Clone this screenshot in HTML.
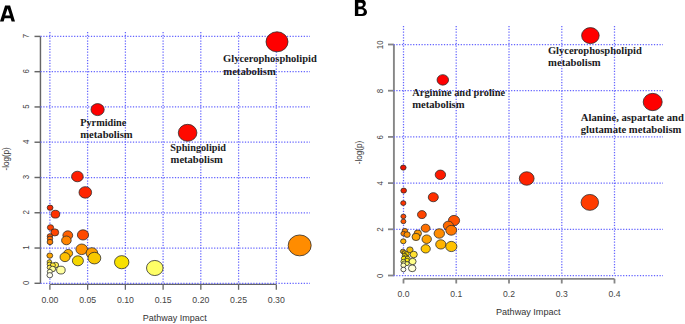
<!DOCTYPE html>
<html><head><meta charset="utf-8"><style>
html,body{margin:0;padding:0;background:#fff;}
body{width:685px;height:324px;overflow:hidden;font-family:"Liberation Sans",sans-serif;}
svg{display:block;}
</style></head><body>
<svg width="685" height="324" viewBox="0 0 685 324">
<rect width="685" height="324" fill="#fff"/>
<path d="M40.45 36.41 V283.60" stroke="#666" stroke-width="1.45" fill="none"/>
<path d="M34.5 283.30 H40.45" stroke="#666" stroke-width="1.45"/>
<text x="0" y="0" transform="translate(29.20 282.90) rotate(-90) scale(0.84 1)" font-family="Liberation Sans" font-size="9.4" text-anchor="middle" fill="#444">0</text>
<path d="M34.5 248.03 H40.45" stroke="#666" stroke-width="1.45"/>
<text x="0" y="0" transform="translate(29.20 247.63) rotate(-90) scale(0.84 1)" font-family="Liberation Sans" font-size="9.4" text-anchor="middle" fill="#444">1</text>
<path d="M34.5 212.76 H40.45" stroke="#666" stroke-width="1.45"/>
<text x="0" y="0" transform="translate(29.20 212.36) rotate(-90) scale(0.84 1)" font-family="Liberation Sans" font-size="9.4" text-anchor="middle" fill="#444">2</text>
<path d="M34.5 177.49 H40.45" stroke="#666" stroke-width="1.45"/>
<text x="0" y="0" transform="translate(29.20 177.09) rotate(-90) scale(0.84 1)" font-family="Liberation Sans" font-size="9.4" text-anchor="middle" fill="#444">3</text>
<path d="M34.5 142.22 H40.45" stroke="#666" stroke-width="1.45"/>
<text x="0" y="0" transform="translate(29.20 141.82) rotate(-90) scale(0.84 1)" font-family="Liberation Sans" font-size="9.4" text-anchor="middle" fill="#444">4</text>
<path d="M34.5 106.95 H40.45" stroke="#666" stroke-width="1.45"/>
<text x="0" y="0" transform="translate(29.20 106.55) rotate(-90) scale(0.84 1)" font-family="Liberation Sans" font-size="9.4" text-anchor="middle" fill="#444">5</text>
<path d="M34.5 71.68 H40.45" stroke="#666" stroke-width="1.45"/>
<text x="0" y="0" transform="translate(29.20 71.28) rotate(-90) scale(0.84 1)" font-family="Liberation Sans" font-size="9.4" text-anchor="middle" fill="#444">6</text>
<path d="M34.5 36.41 H40.45" stroke="#666" stroke-width="1.45"/>
<text x="0" y="0" transform="translate(29.20 36.01) rotate(-90) scale(0.84 1)" font-family="Liberation Sans" font-size="9.4" text-anchor="middle" fill="#444">7</text>
<path d="M49.90 284.4 H276.31" stroke="#666" stroke-width="1.3" fill="none"/>
<path d="M49.90 284.4 V289.8" stroke="#666" stroke-width="1.3"/>
<text x="0" y="0" transform="translate(49.90 302.80) scale(0.9 1)" font-family="Liberation Sans" font-size="9.7" text-anchor="middle" fill="#444">0.00</text>
<path d="M87.64 284.4 V289.8" stroke="#666" stroke-width="1.3"/>
<text x="0" y="0" transform="translate(87.64 302.80) scale(0.9 1)" font-family="Liberation Sans" font-size="9.7" text-anchor="middle" fill="#444">0.05</text>
<path d="M125.37 284.4 V289.8" stroke="#666" stroke-width="1.3"/>
<text x="0" y="0" transform="translate(125.37 302.80) scale(0.9 1)" font-family="Liberation Sans" font-size="9.7" text-anchor="middle" fill="#444">0.10</text>
<path d="M163.11 284.4 V289.8" stroke="#666" stroke-width="1.3"/>
<text x="0" y="0" transform="translate(163.11 302.80) scale(0.9 1)" font-family="Liberation Sans" font-size="9.7" text-anchor="middle" fill="#444">0.15</text>
<path d="M200.84 284.4 V289.8" stroke="#666" stroke-width="1.3"/>
<text x="0" y="0" transform="translate(200.84 302.80) scale(0.9 1)" font-family="Liberation Sans" font-size="9.7" text-anchor="middle" fill="#444">0.20</text>
<path d="M238.58 284.4 V289.8" stroke="#666" stroke-width="1.3"/>
<text x="0" y="0" transform="translate(238.58 302.80) scale(0.9 1)" font-family="Liberation Sans" font-size="9.7" text-anchor="middle" fill="#444">0.25</text>
<path d="M276.31 284.4 V289.8" stroke="#666" stroke-width="1.3"/>
<text x="0" y="0" transform="translate(276.31 302.80) scale(0.9 1)" font-family="Liberation Sans" font-size="9.7" text-anchor="middle" fill="#444">0.30</text>
<text x="174.8" y="321.3" font-family="Liberation Sans" font-size="9" font-weight="normal" text-anchor="middle" fill="#333">Pathway Impact</text>
<text x="0" y="0" transform="translate(9.10 158.90) rotate(-90) scale(0.84 1)" font-family="Liberation Sans" font-size="9.6" text-anchor="middle" fill="#333">-log(p)</text>
<path d="M393.9 44.50 V275.50" stroke="#868686" stroke-width="1.9" fill="none"/>
<path d="M388.0 275.50 H393.9" stroke="#868686" stroke-width="1.8"/>
<text x="0" y="0" transform="translate(382.70 275.80) rotate(-90) scale(0.8 1)" font-family="Liberation Sans" font-size="9.8" text-anchor="middle" fill="#444">0</text>
<path d="M388.0 229.30 H393.9" stroke="#868686" stroke-width="1.8"/>
<text x="0" y="0" transform="translate(382.70 229.60) rotate(-90) scale(0.8 1)" font-family="Liberation Sans" font-size="9.8" text-anchor="middle" fill="#444">2</text>
<path d="M388.0 183.10 H393.9" stroke="#868686" stroke-width="1.8"/>
<text x="0" y="0" transform="translate(382.70 183.40) rotate(-90) scale(0.8 1)" font-family="Liberation Sans" font-size="9.8" text-anchor="middle" fill="#444">4</text>
<path d="M388.0 136.90 H393.9" stroke="#868686" stroke-width="1.8"/>
<text x="0" y="0" transform="translate(382.70 137.20) rotate(-90) scale(0.8 1)" font-family="Liberation Sans" font-size="9.8" text-anchor="middle" fill="#444">6</text>
<path d="M388.0 90.70 H393.9" stroke="#868686" stroke-width="1.8"/>
<text x="0" y="0" transform="translate(382.70 91.00) rotate(-90) scale(0.8 1)" font-family="Liberation Sans" font-size="9.8" text-anchor="middle" fill="#444">8</text>
<path d="M388.0 44.50 H393.9" stroke="#868686" stroke-width="1.8"/>
<text x="0" y="0" transform="translate(382.70 44.80) rotate(-90) scale(0.8 1)" font-family="Liberation Sans" font-size="9.8" text-anchor="middle" fill="#444">10</text>
<path d="M403.50 278.8 H614.50" stroke="#868686" stroke-width="1.8" fill="none"/>
<path d="M403.50 278.8 V283.5" stroke="#868686" stroke-width="1.8"/>
<text x="0" y="0" transform="translate(403.50 297.10) scale(0.87 1)" font-family="Liberation Sans" font-size="9.9" text-anchor="middle" fill="#444">0.0</text>
<path d="M456.25 278.8 V283.5" stroke="#868686" stroke-width="1.8"/>
<text x="0" y="0" transform="translate(456.25 297.10) scale(0.87 1)" font-family="Liberation Sans" font-size="9.9" text-anchor="middle" fill="#444">0.1</text>
<path d="M509.00 278.8 V283.5" stroke="#868686" stroke-width="1.8"/>
<text x="0" y="0" transform="translate(509.00 297.10) scale(0.87 1)" font-family="Liberation Sans" font-size="9.9" text-anchor="middle" fill="#444">0.2</text>
<path d="M561.75 278.8 V283.5" stroke="#868686" stroke-width="1.8"/>
<text x="0" y="0" transform="translate(561.75 297.10) scale(0.87 1)" font-family="Liberation Sans" font-size="9.9" text-anchor="middle" fill="#444">0.3</text>
<path d="M614.50 278.8 V283.5" stroke="#868686" stroke-width="1.8"/>
<text x="0" y="0" transform="translate(614.50 297.10) scale(0.87 1)" font-family="Liberation Sans" font-size="9.9" text-anchor="middle" fill="#444">0.4</text>
<text x="528.3" y="315.3" font-family="Liberation Sans" font-size="9.1" font-weight="normal" text-anchor="middle" fill="#333">Pathway Impact</text>
<text x="0" y="0" transform="translate(362.10 152.50) rotate(-90) scale(0.84 1)" font-family="Liberation Sans" font-size="9.6" text-anchor="middle" fill="#333">-log(p)</text>
<line x1="40.5" y1="283.3" x2="310.0" y2="283.3" stroke="#6464ff" stroke-width="1.25" stroke-dasharray="1.25 1.55"/>
<line x1="40.5" y1="248.0" x2="310.0" y2="248.0" stroke="#6464ff" stroke-width="1.25" stroke-dasharray="1.25 1.55"/>
<line x1="40.5" y1="212.8" x2="310.0" y2="212.8" stroke="#6464ff" stroke-width="1.25" stroke-dasharray="1.25 1.55"/>
<line x1="40.5" y1="177.5" x2="310.0" y2="177.5" stroke="#6464ff" stroke-width="1.25" stroke-dasharray="1.25 1.55"/>
<line x1="40.5" y1="142.2" x2="310.0" y2="142.2" stroke="#6464ff" stroke-width="1.25" stroke-dasharray="1.25 1.55"/>
<line x1="40.5" y1="106.9" x2="310.0" y2="106.9" stroke="#6464ff" stroke-width="1.25" stroke-dasharray="1.25 1.55"/>
<line x1="40.5" y1="71.7" x2="310.0" y2="71.7" stroke="#6464ff" stroke-width="1.25" stroke-dasharray="1.25 1.55"/>
<line x1="40.5" y1="36.4" x2="310.0" y2="36.4" stroke="#6464ff" stroke-width="1.25" stroke-dasharray="1.25 1.55"/>
<line x1="49.9" y1="32.0" x2="49.9" y2="283.3" stroke="#6464ff" stroke-width="1.25" stroke-dasharray="1.25 1.55"/>
<line x1="87.6" y1="32.0" x2="87.6" y2="283.3" stroke="#6464ff" stroke-width="1.25" stroke-dasharray="1.25 1.55"/>
<line x1="125.4" y1="32.0" x2="125.4" y2="283.3" stroke="#6464ff" stroke-width="1.25" stroke-dasharray="1.25 1.55"/>
<line x1="163.1" y1="32.0" x2="163.1" y2="283.3" stroke="#6464ff" stroke-width="1.25" stroke-dasharray="1.25 1.55"/>
<line x1="200.8" y1="32.0" x2="200.8" y2="283.3" stroke="#6464ff" stroke-width="1.25" stroke-dasharray="1.25 1.55"/>
<line x1="238.6" y1="32.0" x2="238.6" y2="283.3" stroke="#6464ff" stroke-width="1.25" stroke-dasharray="1.25 1.55"/>
<line x1="276.3" y1="32.0" x2="276.3" y2="283.3" stroke="#6464ff" stroke-width="1.25" stroke-dasharray="1.25 1.55"/>
<line x1="393.5" y1="275.5" x2="663.0" y2="275.5" stroke="#6464ff" stroke-width="1.25" stroke-dasharray="1.25 1.55"/>
<line x1="393.5" y1="229.3" x2="663.0" y2="229.3" stroke="#6464ff" stroke-width="1.25" stroke-dasharray="1.25 1.55"/>
<line x1="393.5" y1="183.1" x2="663.0" y2="183.1" stroke="#6464ff" stroke-width="1.25" stroke-dasharray="1.25 1.55"/>
<line x1="393.5" y1="136.9" x2="663.0" y2="136.9" stroke="#6464ff" stroke-width="1.25" stroke-dasharray="1.25 1.55"/>
<line x1="393.5" y1="90.7" x2="663.0" y2="90.7" stroke="#6464ff" stroke-width="1.25" stroke-dasharray="1.25 1.55"/>
<line x1="393.5" y1="44.5" x2="663.0" y2="44.5" stroke="#6464ff" stroke-width="1.25" stroke-dasharray="1.25 1.55"/>
<line x1="403.5" y1="26.0" x2="403.5" y2="275.5" stroke="#6464ff" stroke-width="1.25" stroke-dasharray="1.25 1.55"/>
<line x1="456.2" y1="26.0" x2="456.2" y2="275.5" stroke="#6464ff" stroke-width="1.25" stroke-dasharray="1.25 1.55"/>
<line x1="509.0" y1="26.0" x2="509.0" y2="275.5" stroke="#6464ff" stroke-width="1.25" stroke-dasharray="1.25 1.55"/>
<line x1="561.8" y1="26.0" x2="561.8" y2="275.5" stroke="#6464ff" stroke-width="1.25" stroke-dasharray="1.25 1.55"/>
<line x1="614.5" y1="26.0" x2="614.5" y2="275.5" stroke="#6464ff" stroke-width="1.25" stroke-dasharray="1.25 1.55"/>
<ellipse cx="277.0" cy="41.8" rx="11.00" ry="10.01" fill="#FF0000" stroke="#2a2a2a" stroke-opacity="0.78" stroke-width="1"/>
<ellipse cx="97.6" cy="109.6" rx="6.60" ry="6.01" fill="#FF0000" stroke="#2a2a2a" stroke-opacity="0.78" stroke-width="1"/>
<ellipse cx="187.6" cy="132.8" rx="9.30" ry="8.46" fill="#FF0A00" stroke="#2a2a2a" stroke-opacity="0.78" stroke-width="1"/>
<ellipse cx="77.4" cy="176.5" rx="5.80" ry="5.28" fill="#FF1E00" stroke="#2a2a2a" stroke-opacity="0.78" stroke-width="1"/>
<ellipse cx="85.3" cy="192.4" rx="6.30" ry="5.73" fill="#FF2500" stroke="#2a2a2a" stroke-opacity="0.78" stroke-width="1"/>
<ellipse cx="50.1" cy="207.7" rx="2.90" ry="2.64" fill="#F52800" stroke="#2a2a2a" stroke-opacity="0.78" stroke-width="1"/>
<ellipse cx="55.4" cy="214.2" rx="4.30" ry="3.91" fill="#FF3300" stroke="#2a2a2a" stroke-opacity="0.78" stroke-width="1"/>
<ellipse cx="50.5" cy="227.5" rx="3.10" ry="2.82" fill="#FF4000" stroke="#2a2a2a" stroke-opacity="0.78" stroke-width="1"/>
<ellipse cx="54.8" cy="232.4" rx="3.90" ry="3.55" fill="#FF4400" stroke="#2a2a2a" stroke-opacity="0.78" stroke-width="1"/>
<ellipse cx="83.0" cy="234.9" rx="5.60" ry="5.10" fill="#FF4800" stroke="#2a2a2a" stroke-opacity="0.78" stroke-width="1"/>
<ellipse cx="67.8" cy="235.3" rx="4.90" ry="4.46" fill="#FF6000" stroke="#2a2a2a" stroke-opacity="0.78" stroke-width="1"/>
<ellipse cx="49.9" cy="236.2" rx="2.70" ry="2.46" fill="#FF5800" stroke="#2a2a2a" stroke-opacity="0.78" stroke-width="1"/>
<ellipse cx="50.0" cy="238.6" rx="2.70" ry="2.46" fill="#FF6A00" stroke="#2a2a2a" stroke-opacity="0.78" stroke-width="1"/>
<ellipse cx="66.4" cy="240.4" rx="4.80" ry="4.37" fill="#FF8400" stroke="#2a2a2a" stroke-opacity="0.78" stroke-width="1"/>
<ellipse cx="50.0" cy="242.0" rx="2.90" ry="2.64" fill="#FF8000" stroke="#2a2a2a" stroke-opacity="0.78" stroke-width="1"/>
<ellipse cx="299.7" cy="245.4" rx="11.50" ry="10.46" fill="#FF8C00" stroke="#2a2a2a" stroke-opacity="0.78" stroke-width="1"/>
<ellipse cx="81.7" cy="249.3" rx="5.80" ry="5.28" fill="#FF9200" stroke="#2a2a2a" stroke-opacity="0.78" stroke-width="1"/>
<ellipse cx="91.9" cy="253.0" rx="5.80" ry="5.28" fill="#FFA000" stroke="#2a2a2a" stroke-opacity="0.78" stroke-width="1"/>
<ellipse cx="68.2" cy="253.4" rx="4.40" ry="4.00" fill="#FFB000" stroke="#2a2a2a" stroke-opacity="0.78" stroke-width="1"/>
<ellipse cx="49.8" cy="255.6" rx="2.90" ry="2.64" fill="#FFA500" stroke="#2a2a2a" stroke-opacity="0.78" stroke-width="1"/>
<ellipse cx="65.0" cy="257.1" rx="5.00" ry="4.55" fill="#FFC000" stroke="#2a2a2a" stroke-opacity="0.78" stroke-width="1"/>
<ellipse cx="94.4" cy="258.1" rx="6.40" ry="5.82" fill="#F8C800" stroke="#2a2a2a" stroke-opacity="0.78" stroke-width="1"/>
<ellipse cx="77.9" cy="260.8" rx="5.50" ry="5.00" fill="#F4D600" stroke="#2a2a2a" stroke-opacity="0.78" stroke-width="1"/>
<ellipse cx="49.4" cy="261.9" rx="2.30" ry="2.09" fill="#FFE020" stroke="#2a2a2a" stroke-opacity="0.78" stroke-width="1"/>
<ellipse cx="121.7" cy="262.2" rx="7.20" ry="6.55" fill="#F7E000" stroke="#2a2a2a" stroke-opacity="0.78" stroke-width="1"/>
<ellipse cx="49.4" cy="264.2" rx="2.30" ry="2.09" fill="#FFE533" stroke="#2a2a2a" stroke-opacity="0.78" stroke-width="1"/>
<ellipse cx="55.6" cy="265.0" rx="3.00" ry="2.73" fill="#FFF055" stroke="#2a2a2a" stroke-opacity="0.78" stroke-width="1"/>
<ellipse cx="52.8" cy="265.2" rx="2.60" ry="2.37" fill="#FFE833" stroke="#2a2a2a" stroke-opacity="0.78" stroke-width="1"/>
<ellipse cx="49.6" cy="267.4" rx="2.40" ry="2.18" fill="#FFF066" stroke="#2a2a2a" stroke-opacity="0.78" stroke-width="1"/>
<ellipse cx="154.8" cy="268.0" rx="8.30" ry="7.55" fill="#FFFF66" stroke="#2a2a2a" stroke-opacity="0.78" stroke-width="1"/>
<ellipse cx="52.6" cy="269.0" rx="3.00" ry="2.73" fill="#FFFF99" stroke="#2a2a2a" stroke-opacity="0.78" stroke-width="1"/>
<ellipse cx="60.9" cy="270.1" rx="4.30" ry="3.91" fill="#FFFFA0" stroke="#2a2a2a" stroke-opacity="0.78" stroke-width="1"/>
<ellipse cx="49.8" cy="271.6" rx="2.50" ry="2.27" fill="#FFFFCC" stroke="#2a2a2a" stroke-opacity="0.78" stroke-width="1"/>
<ellipse cx="49.8" cy="275.2" rx="2.85" ry="2.59" fill="#FFFFEE" stroke="#2a2a2a" stroke-opacity="0.78" stroke-width="1"/>
<ellipse cx="590.4" cy="35.6" rx="8.80" ry="8.01" fill="#FF0000" stroke="#2a2a2a" stroke-opacity="0.78" stroke-width="1"/>
<ellipse cx="442.8" cy="79.9" rx="5.75" ry="5.23" fill="#FF0000" stroke="#2a2a2a" stroke-opacity="0.78" stroke-width="1"/>
<ellipse cx="652.7" cy="102.0" rx="9.50" ry="8.64" fill="#FF0000" stroke="#2a2a2a" stroke-opacity="0.78" stroke-width="1"/>
<ellipse cx="403.3" cy="167.6" rx="2.80" ry="2.55" fill="#EE1100" stroke="#2a2a2a" stroke-opacity="0.78" stroke-width="1"/>
<ellipse cx="440.4" cy="174.8" rx="5.20" ry="4.73" fill="#FF1A00" stroke="#2a2a2a" stroke-opacity="0.78" stroke-width="1"/>
<ellipse cx="526.7" cy="178.5" rx="7.40" ry="6.73" fill="#FF2200" stroke="#2a2a2a" stroke-opacity="0.78" stroke-width="1"/>
<ellipse cx="403.7" cy="190.6" rx="2.80" ry="2.55" fill="#EE2200" stroke="#2a2a2a" stroke-opacity="0.78" stroke-width="1"/>
<ellipse cx="433.3" cy="197.2" rx="5.00" ry="4.55" fill="#FF3000" stroke="#2a2a2a" stroke-opacity="0.78" stroke-width="1"/>
<ellipse cx="589.8" cy="202.4" rx="8.75" ry="7.96" fill="#FF3C00" stroke="#2a2a2a" stroke-opacity="0.78" stroke-width="1"/>
<ellipse cx="403.3" cy="203.1" rx="2.60" ry="2.37" fill="#FF3300" stroke="#2a2a2a" stroke-opacity="0.78" stroke-width="1"/>
<ellipse cx="421.9" cy="214.6" rx="4.40" ry="4.00" fill="#FF4400" stroke="#2a2a2a" stroke-opacity="0.78" stroke-width="1"/>
<ellipse cx="403.4" cy="216.4" rx="2.50" ry="2.27" fill="#FF4400" stroke="#2a2a2a" stroke-opacity="0.78" stroke-width="1"/>
<ellipse cx="454.0" cy="220.5" rx="5.60" ry="5.10" fill="#FF5200" stroke="#2a2a2a" stroke-opacity="0.78" stroke-width="1"/>
<ellipse cx="403.4" cy="221.4" rx="2.50" ry="2.27" fill="#FF5500" stroke="#2a2a2a" stroke-opacity="0.78" stroke-width="1"/>
<ellipse cx="448.4" cy="225.8" rx="5.10" ry="4.64" fill="#FF6800" stroke="#2a2a2a" stroke-opacity="0.78" stroke-width="1"/>
<ellipse cx="425.6" cy="228.2" rx="4.40" ry="4.00" fill="#FF7000" stroke="#2a2a2a" stroke-opacity="0.78" stroke-width="1"/>
<ellipse cx="451.2" cy="230.3" rx="5.40" ry="4.91" fill="#FF7700" stroke="#2a2a2a" stroke-opacity="0.78" stroke-width="1"/>
<ellipse cx="404.9" cy="230.9" rx="2.70" ry="2.46" fill="#FF8800" stroke="#2a2a2a" stroke-opacity="0.78" stroke-width="1"/>
<ellipse cx="417.8" cy="233.4" rx="3.70" ry="3.37" fill="#FF9900" stroke="#2a2a2a" stroke-opacity="0.78" stroke-width="1"/>
<ellipse cx="439.3" cy="233.5" rx="5.20" ry="4.73" fill="#FF8C00" stroke="#2a2a2a" stroke-opacity="0.78" stroke-width="1"/>
<ellipse cx="403.4" cy="233.6" rx="2.50" ry="2.27" fill="#FF8000" stroke="#2a2a2a" stroke-opacity="0.78" stroke-width="1"/>
<ellipse cx="407.1" cy="234.6" rx="3.10" ry="2.82" fill="#FF9000" stroke="#2a2a2a" stroke-opacity="0.78" stroke-width="1"/>
<ellipse cx="416.0" cy="236.9" rx="4.00" ry="3.64" fill="#FFA500" stroke="#2a2a2a" stroke-opacity="0.78" stroke-width="1"/>
<ellipse cx="426.7" cy="239.2" rx="4.70" ry="4.28" fill="#FFA200" stroke="#2a2a2a" stroke-opacity="0.78" stroke-width="1"/>
<ellipse cx="403.3" cy="241.3" rx="2.70" ry="2.46" fill="#FFB000" stroke="#2a2a2a" stroke-opacity="0.78" stroke-width="1"/>
<ellipse cx="440.8" cy="244.4" rx="5.10" ry="4.64" fill="#FFB400" stroke="#2a2a2a" stroke-opacity="0.78" stroke-width="1"/>
<ellipse cx="451.3" cy="246.5" rx="5.60" ry="5.10" fill="#FFC200" stroke="#2a2a2a" stroke-opacity="0.78" stroke-width="1"/>
<ellipse cx="425.7" cy="248.8" rx="4.60" ry="4.19" fill="#FFC600" stroke="#2a2a2a" stroke-opacity="0.78" stroke-width="1"/>
<ellipse cx="409.9" cy="249.8" rx="3.20" ry="2.91" fill="#F5C000" stroke="#2a2a2a" stroke-opacity="0.78" stroke-width="1"/>
<ellipse cx="402.9" cy="251.4" rx="2.50" ry="2.27" fill="#C89A18" stroke="#2a2a2a" stroke-opacity="0.78" stroke-width="1"/>
<ellipse cx="404.6" cy="252.9" rx="2.40" ry="2.18" fill="#E8C000" stroke="#2a2a2a" stroke-opacity="0.78" stroke-width="1"/>
<ellipse cx="406.6" cy="254.2" rx="2.60" ry="2.37" fill="#FFDD00" stroke="#2a2a2a" stroke-opacity="0.78" stroke-width="1"/>
<ellipse cx="413.7" cy="254.5" rx="3.60" ry="3.28" fill="#FFE030" stroke="#2a2a2a" stroke-opacity="0.78" stroke-width="1"/>
<ellipse cx="404.8" cy="255.6" rx="2.50" ry="2.27" fill="#FFE000" stroke="#2a2a2a" stroke-opacity="0.78" stroke-width="1"/>
<ellipse cx="405.6" cy="257.1" rx="2.40" ry="2.18" fill="#FFE800" stroke="#2a2a2a" stroke-opacity="0.78" stroke-width="1"/>
<ellipse cx="403.9" cy="258.4" rx="2.50" ry="2.27" fill="#FFEE00" stroke="#2a2a2a" stroke-opacity="0.78" stroke-width="1"/>
<ellipse cx="407.6" cy="258.6" rx="2.50" ry="2.27" fill="#FFEE20" stroke="#2a2a2a" stroke-opacity="0.78" stroke-width="1"/>
<ellipse cx="407.1" cy="260.2" rx="2.20" ry="2.00" fill="#FFEE00" stroke="#2a2a2a" stroke-opacity="0.78" stroke-width="1"/>
<ellipse cx="412.6" cy="261.5" rx="3.50" ry="3.19" fill="#FFFF88" stroke="#2a2a2a" stroke-opacity="0.78" stroke-width="1"/>
<ellipse cx="403.4" cy="261.6" rx="2.50" ry="2.27" fill="#FFFF60" stroke="#2a2a2a" stroke-opacity="0.78" stroke-width="1"/>
<ellipse cx="404.2" cy="263.2" rx="2.40" ry="2.18" fill="#FFFF90" stroke="#2a2a2a" stroke-opacity="0.78" stroke-width="1"/>
<ellipse cx="407.0" cy="263.6" rx="2.20" ry="2.00" fill="#FFFF70" stroke="#2a2a2a" stroke-opacity="0.78" stroke-width="1"/>
<ellipse cx="403.4" cy="265.3" rx="2.50" ry="2.27" fill="#FFFFC0" stroke="#2a2a2a" stroke-opacity="0.78" stroke-width="1"/>
<ellipse cx="412.2" cy="268.3" rx="3.75" ry="3.41" fill="#FFFFD8" stroke="#2a2a2a" stroke-opacity="0.78" stroke-width="1"/>
<ellipse cx="403.4" cy="269.5" rx="2.50" ry="2.27" fill="#FFFFF0" stroke="#2a2a2a" stroke-opacity="0.78" stroke-width="1"/>
<text x="0" y="0" transform="translate(223.08 62.30) scale(1 1.07)" font-family="Liberation Serif" font-size="10.50" font-weight="bold" fill="#1a1a22">Glycerophospholipid</text>
<text x="0" y="0" transform="translate(223.29 74.50) scale(1 1.07)" font-family="Liberation Serif" font-size="10.63" font-weight="bold" fill="#1a1a22">metabolism</text>
<text x="0" y="0" transform="translate(80.20 126.10) scale(1 1.07)" font-family="Liberation Serif" font-size="10.26" font-weight="bold" fill="#1a1a22">Pyrmidine</text>
<text x="0" y="0" transform="translate(80.29 138.00) scale(1 1.07)" font-family="Liberation Serif" font-size="10.61" font-weight="bold" fill="#1a1a22">metabolism</text>
<text x="0" y="0" transform="translate(170.29 150.90) scale(1 1.07)" font-family="Liberation Serif" font-size="10.24" font-weight="bold" fill="#1a1a22">Sphingolipid</text>
<text x="0" y="0" transform="translate(170.59 163.10) scale(1 1.07)" font-family="Liberation Serif" font-size="10.57" font-weight="bold" fill="#1a1a22">metabolism</text>
<text x="0" y="0" transform="translate(547.88 54.10) scale(1 1.07)" font-family="Liberation Serif" font-size="10.53" font-weight="bold" fill="#1a1a22">Glycerophospholipid</text>
<text x="0" y="0" transform="translate(548.09 66.20) scale(1 1.07)" font-family="Liberation Serif" font-size="10.65" font-weight="bold" fill="#1a1a22">metabolism</text>
<text x="0" y="0" transform="translate(412.30 95.60) scale(1 1.07)" font-family="Liberation Serif" font-size="10.41" font-weight="bold" fill="#1a1a22">Arginine and proline</text>
<text x="0" y="0" transform="translate(412.19 107.60) scale(1 1.07)" font-family="Liberation Serif" font-size="10.61" font-weight="bold" fill="#1a1a22">metabolism</text>
<text x="0" y="0" transform="translate(580.80 120.70) scale(1 1.07)" font-family="Liberation Serif" font-size="10.64" font-weight="bold" fill="#1a1a22">Alanine, aspartate and</text>
<text x="0" y="0" transform="translate(580.79 132.50) scale(1 1.07)" font-family="Liberation Serif" font-size="10.63" font-weight="bold" fill="#1a1a22">glutamate metabolism</text>
<path fill-rule="evenodd" fill="#000" d="M0 21.5 L5.1 5.6 L10.1 5.6 L15.0 21.5 L11.6 21.5 L10.6 18.2 L4.6 18.2 L3.6 21.5 Z M5.25 15.6 L9.95 15.6 L7.6 8.5 Z"/>
<path fill-rule="evenodd" fill="#000" d="M354.9 -0.6 H361.4 C364.3 -0.6 365.8 1.3 365.8 3.6 C365.8 5.4 364.9 6.8 363.4 7.7 C365.6 8.4 367.0 10.1 367.0 12.2 C367.0 14.6 365.2 16.0 362.2 16.0 H354.9 Z M358.3 2.7 H360.9 C362.3 2.7 362.9 3.5 362.9 4.6 C362.9 5.8 362.2 6.5 360.9 6.5 H358.3 Z M358.3 9.3 H361.5 C363.0 9.3 363.8 10.2 363.8 11.6 C363.8 13.1 363.0 13.9 361.5 13.9 H358.3 Z"/>
</svg>
</body></html>
